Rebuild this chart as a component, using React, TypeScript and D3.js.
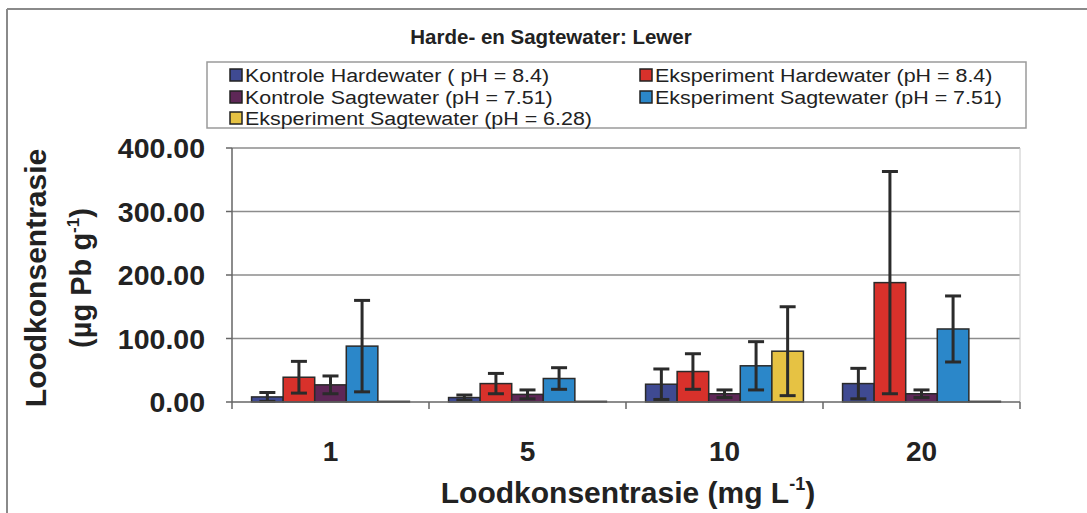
import React from 'react';
import * as d3 from 'd3';

// Concentration groups (mg L-1)
const categories = ['1', '5', '10', '20'];

const seriesNames = [
  'Kontrole Hardewater ( pH = 8.4)',
  'Eksperiment Hardewater (pH = 8.4)',
  'Kontrole Sagtewater (pH = 7.51)',
  'Eksperiment Sagtewater (pH = 7.51)',
  'Eksperiment Sagtewater (pH = 6.28)',
];

const seriesColors = ['#3f4a92', '#d8312b', '#5e2757', '#2b87c9', '#e6c243'];

// Mean lead concentration (µg Pb g-1) per series, per group
const kontroleHard = [8, 7, 28, 29];
const eksperimentHard = [39, 29, 48, 188];
const kontroleSag = [27, 12, 13, 13];
const eksperimentSag751 = [88, 37, 57, 115];
const eksperimentSag628 = [1, 1, 80, 1];

// Standard deviations (error bars)
const kontroleHardErr = [7, 4, 24, 24];
const eksperimentHardErr = [25, 16, 28, 175];
const kontroleSagErr = [14, 7, 6, 6];
const eksperimentSag751Err = [72, 17, 38, 52];
const eksperimentSag628Err = [0, 0, 70, 0];

const yTicks = [0, 100, 200, 300, 400];

const values = [kontroleHard, eksperimentHard, kontroleSag, eksperimentSag751, eksperimentSag628];
const errors = [kontroleHardErr, eksperimentHardErr, kontroleSagErr, eksperimentSag751Err, eksperimentSag628Err];

const W = 1087;
const H = 513;
const margin = { top: 148, right: 67, bottom: 111, left: 232 };
const FONT = "'Liberation Sans', Arial, sans-serif";

const App = () => {
  const innerW = W - margin.left - margin.right;
  const innerH = H - margin.top - margin.bottom;

  const x0 = d3.scaleBand().domain(categories).range([0, innerW]).paddingInner(0).paddingOuter(0);
  const x1 = d3
    .scaleBand()
    .domain(seriesNames)
    .range([0, x0.bandwidth()])
    .paddingInner(0)
    .paddingOuter(0.62);
  const y = d3.scaleLinear().domain([0, 400]).range([innerH, 0]);

  const bars = [];
  categories.forEach((c, ci) => {
    seriesNames.forEach((s, si) => {
      const v = values[si][ci];
      const e = errors[si][ci];
      const bx = x0(c) + x1(s);
      const bw = x1.bandwidth();
      const cx = bx + bw / 2;
      bars.push(
        <g key={`${c}-${s}`}>
          <rect
            x={bx}
            y={y(v)}
            width={bw}
            height={innerH - y(v)}
            fill={seriesColors[si]}
            stroke="#2a2a2a"
            strokeWidth={1.5}
          />
          {e > 0 && (
            <g stroke="#2b2b2b" strokeWidth={3}>
              <line x1={cx} x2={cx} y1={y(v + e)} y2={y(Math.max(0, v - e))} />
              <line x1={cx - 8} x2={cx + 8} y1={y(v + e)} y2={y(v + e)} />
              <line x1={cx - 8} x2={cx + 8} y1={y(Math.max(0, v - e))} y2={y(Math.max(0, v - e))} />
            </g>
          )}
        </g>
      );
    });
  });

  // legend layout: two columns, three rows
  const legendPos = [
    [230, 75],
    [640, 75],
    [230, 97],
    [640, 97],
    [230, 118],
  ];

  return (
    <svg
      width={W}
      height={H}
      style={{ position: 'absolute', left: 0, top: 0, background: '#fff' }}
      fontFamily={FONT}
    >
      {/* outer frame */}
      <line x1={7} x2={7} y1={9} y2={H} stroke="#8a8a8a" strokeWidth={2} />
      <line x1={7} x2={W} y1={9} y2={9} stroke="#8a8a8a" strokeWidth={2} />

      <text x={551} y={44} textAnchor="middle" fontWeight="bold" fontSize={20.5} fill="#222">
        Harde- en Sagtewater: Lewer
      </text>

      {/* legend */}
      <rect x={207} y={62} width={819} height={66} fill="#fff" stroke="#9a9a9a" strokeWidth={1.5} />
      {seriesNames.map((s, i) => (
        <g key={s} transform={`translate(${legendPos[i][0]},${legendPos[i][1]})`}>
          <rect x={0} y={-6} width={12} height={12} fill={seriesColors[i]} stroke="#222" strokeWidth={1.5} />
          {/* slightly condensed type, as in the scan */}
          <g transform="translate(15,7) scale(1.14,1)">
            <text x={0} y={0} fontSize={18.8} fill="#222">
              {s}
            </text>
          </g>
        </g>
      ))}

      <g transform={`translate(${margin.left},${margin.top})`}>
        {/* gridlines */}
        {yTicks.slice(1).map(t => (
          <line key={t} x1={0} x2={innerW} y1={y(t)} y2={y(t)} stroke="#8c8c8c" strokeWidth={1.5} />
        ))}
        <line x1={innerW} x2={innerW} y1={0} y2={innerH} stroke="#c8c8c8" strokeWidth={1} />

        {bars}

        {/* y axis */}
        <line x1={0} x2={0} y1={0} y2={innerH} stroke="#666" strokeWidth={1.5} />
        {yTicks.map(t => (
          <g key={t} transform={`translate(0,${y(t)})`}>
            <line x1={-6} x2={0} stroke="#666" strokeWidth={1.5} />
            <text x={-27} dy="0.36em" textAnchor="end" fontWeight="bold" fontSize={28.5} fill="#222">
              {d3.format('.2f')(t)}
            </text>
          </g>
        ))}

        {/* x axis */}
        <line x1={0} x2={innerW} y1={innerH} y2={innerH} stroke="#666" strokeWidth={1.5} />
        {categories.map(c => (
          <line key={c} x1={x0(c)} x2={x0(c)} y1={innerH} y2={innerH + 7} stroke="#666" strokeWidth={1.5} />
        ))}
        <line x1={innerW} x2={innerW} y1={innerH} y2={innerH + 7} stroke="#666" strokeWidth={1.5} />
        {categories.map(c => (
          <text
            key={c}
            x={x0(c) + x0.bandwidth() / 2}
            y={innerH + 59}
            textAnchor="middle"
            fontWeight="bold"
            fontSize={28}
            fill="#222"
          >
            {c}
          </text>
        ))}
      </g>

      {/* x axis title */}
      <text x={628} y={503} textAnchor="middle" fontWeight="bold" fontSize={30} fill="#222">
        Loodkonsentrasie (mg L
        <tspan fontSize={18} dy={-13}>-1</tspan>
        <tspan dy={13}>)</tspan>
      </text>

      {/* y axis title */}
      <g transform="translate(46,278) rotate(-90)">
        <text x={0} y={0} textAnchor="middle" fontWeight="bold" fontSize={30} fill="#222">
          Loodkonsentrasie
        </text>
        <text x={0} y={45} textAnchor="middle" fontWeight="bold" fontSize={29} fill="#222">
          (µg Pb g<tspan fontSize={17} dy={-12}>-1</tspan>
          <tspan dy={12}>)</tspan>
        </text>
      </g>
    </svg>
  );
};

export default App;
